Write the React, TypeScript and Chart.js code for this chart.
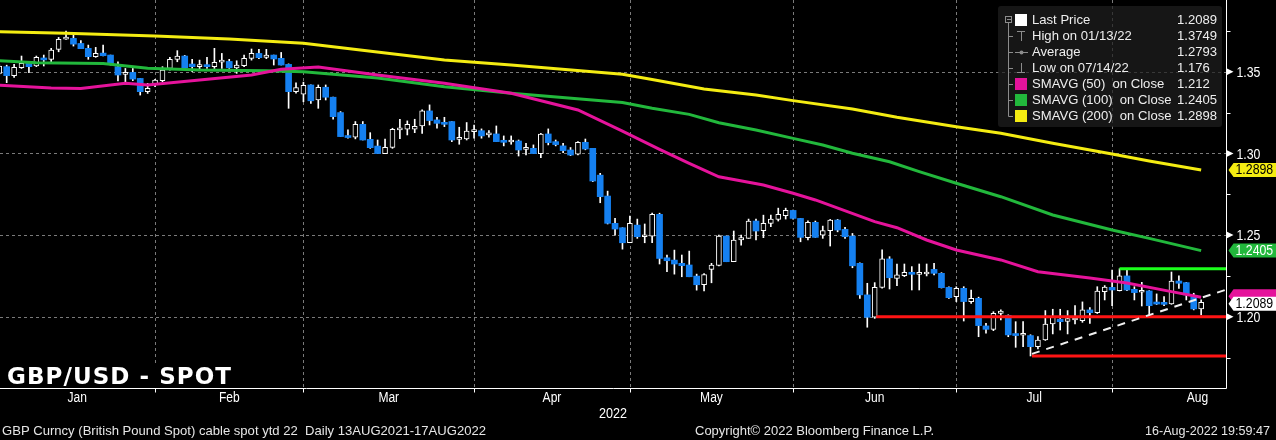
import React, { useEffect, useRef } from "react";
import { Chart, registerables } from "chart.js";
Chart.register(...registerables);

// ---- Daily candles (index 0 = 31 Dec 2021 ... 162 = 16 Aug 2022) ----
const opens = [
  1.3490, 1.3531, 1.3476, 1.3525, 1.3551, 1.3535, 1.3576, 1.3576, 1.3637, 1.3700,
  1.3704, 1.3673, 1.3643, 1.3592, 1.3614, 1.3602, 1.3531, 1.3484, 1.3496, 1.3459,
  1.3378, 1.3425, 1.3445, 1.3520, 1.3576, 1.3596, 1.3547, 1.3531, 1.3541, 1.3531,
  1.3559, 1.3563, 1.3524, 1.3537, 1.3582, 1.3612, 1.3588, 1.3602, 1.3582, 1.3545,
  1.3378, 1.3362, 1.3419, 1.3327, 1.3405, 1.3344, 1.3250, 1.3107, 1.3099, 1.3178,
  1.3086, 1.3045, 1.2999, 1.3037, 1.3144, 1.3148, 1.3148, 1.3168, 1.3260, 1.3205,
  1.3189, 1.3195, 1.3086, 1.3088, 1.3133, 1.3139, 1.3113, 1.3119, 1.3078, 1.3070,
  1.3076, 1.3025, 1.3031, 1.2999, 1.3119, 1.3072, 1.3046, 1.3021, 1.2995, 1.3068,
  1.3031, 1.2867, 1.2739, 1.2572, 1.2545, 1.2453, 1.2561, 1.2490, 1.2494, 1.2627,
  1.2361, 1.2347, 1.2327, 1.2317, 1.2249, 1.2196, 1.2290, 1.2314, 1.2494, 1.2337,
  1.2470, 1.2480, 1.2586, 1.2527, 1.2572, 1.2596, 1.2619, 1.2651, 1.2602, 1.2484,
  1.2578, 1.2500, 1.2527, 1.2592, 1.2535, 1.2494, 1.2327, 1.2134, 1.1997, 1.2180,
  1.2354, 1.2235, 1.2252, 1.2272, 1.2260, 1.2262, 1.2290, 1.2266, 1.2180, 1.2123,
  1.2174, 1.2093, 1.2113, 1.1944, 1.1923, 1.2021, 1.2009, 1.1893, 1.1887, 1.1885,
  1.1817, 1.1858, 1.1956, 1.1985, 1.1972, 1.1980, 1.1976, 1.2042, 1.2025, 1.2154,
  1.2180, 1.2160, 1.2250, 1.2168, 1.2150, 1.2158, 1.2087, 1.2087, 1.2078, 1.2219,
  1.2209, 1.2123, 1.2048,
];
const highs = [
  1.3545, 1.3540, 1.3545, 1.3596, 1.3555, 1.3596, 1.3602, 1.3643, 1.3710, 1.3749,
  1.3724, 1.3690, 1.3663, 1.3649, 1.3663, 1.3602, 1.3561, 1.3520, 1.3520, 1.3459,
  1.3429, 1.3453, 1.3531, 1.3588, 1.3629, 1.3600, 1.3576, 1.3571, 1.3588, 1.3643,
  1.3612, 1.3576, 1.3567, 1.3602, 1.3639, 1.3637, 1.3637, 1.3602, 1.3618, 1.3548,
  1.3432, 1.3436, 1.3419, 1.3419, 1.3419, 1.3344, 1.3256, 1.3144, 1.3195, 1.3195,
  1.3127, 1.3082, 1.3088, 1.3154, 1.3209, 1.3199, 1.3209, 1.3266, 1.3297, 1.3221,
  1.3221, 1.3195, 1.3160, 1.3189, 1.3174, 1.3150, 1.3139, 1.3168, 1.3107, 1.3107,
  1.3082, 1.3062, 1.3052, 1.3123, 1.3150, 1.3082, 1.3062, 1.3036, 1.3072, 1.3088,
  1.3031, 1.2878, 1.2769, 1.2602, 1.2545, 1.2616, 1.2598, 1.2568, 1.2635, 1.2634,
  1.2377, 1.2408, 1.2378, 1.2402, 1.2261, 1.2265, 1.2327, 1.2500, 1.2494, 1.2525,
  1.2500, 1.2598, 1.2598, 1.2622, 1.2622, 1.2665, 1.2665, 1.2653, 1.2602, 1.2588,
  1.2586, 1.2555, 1.2596, 1.2596, 1.2547, 1.2510, 1.2330, 1.2205, 1.2209, 1.2409,
  1.2368, 1.2323, 1.2323, 1.2307, 1.2323, 1.2323, 1.2327, 1.2270, 1.2184, 1.2184,
  1.2184, 1.2164, 1.2120, 1.1960, 1.2031, 1.2042, 1.2012, 1.1970, 1.1970, 1.1890,
  1.1878, 1.2038, 1.2046, 1.2046, 1.2038, 1.2068, 1.2091, 1.2056, 1.2184, 1.2191,
  1.2286, 1.2294, 1.2286, 1.2184, 1.2211, 1.2160, 1.2140, 1.2123, 1.2274, 1.2250,
  1.2211, 1.2144, 1.2103,
];
const lows = [
  1.3480, 1.3433, 1.3465, 1.3520, 1.3494, 1.3531, 1.3535, 1.3561, 1.3622, 1.3698,
  1.3657, 1.3641, 1.3576, 1.3588, 1.3596, 1.3541, 1.3443, 1.3439, 1.3445, 1.3357,
  1.3367, 1.3408, 1.3439, 1.3510, 1.3561, 1.3520, 1.3500, 1.3510, 1.3520, 1.3520,
  1.3520, 1.3520, 1.3490, 1.3531, 1.3571, 1.3580, 1.3580, 1.3541, 1.3541, 1.3276,
  1.3368, 1.3316, 1.3306, 1.3276, 1.3327, 1.3209, 1.3103, 1.3093, 1.3089, 1.3082,
  1.3031, 1.2999, 1.2999, 1.3031, 1.3090, 1.3113, 1.3127, 1.3123, 1.3174, 1.3154,
  1.3164, 1.3072, 1.3056, 1.3082, 1.3093, 1.3093, 1.3099, 1.3072, 1.3046, 1.3056,
  1.2984, 1.2990, 1.2999, 1.2974, 1.3052, 1.3046, 1.3005, 1.2986, 1.2990, 1.3022,
  1.2827, 1.2698, 1.2568, 1.2500, 1.2414, 1.2453, 1.2480, 1.2453, 1.2453, 1.2323,
  1.2276, 1.2261, 1.2245, 1.2245, 1.2163, 1.2159, 1.2208, 1.2312, 1.2337, 1.2337,
  1.2439, 1.2480, 1.2470, 1.2484, 1.2551, 1.2586, 1.2598, 1.2598, 1.2459, 1.2470,
  1.2486, 1.2480, 1.2433, 1.2520, 1.2480, 1.2300, 1.2113, 1.1936, 1.1990, 1.2175,
  1.2170, 1.2191, 1.2246, 1.2164, 1.2164, 1.2250, 1.2256, 1.2176, 1.2113, 1.2093,
  1.1974, 1.2082, 1.1878, 1.1900, 1.1915, 1.1980, 1.1878, 1.1813, 1.1817, 1.1760,
  1.1803, 1.1855, 1.1895, 1.1919, 1.1895, 1.1956, 1.1966, 1.1960, 1.2020, 1.2103,
  1.2068, 1.2158, 1.2160, 1.2103, 1.2066, 1.2005, 1.2075, 1.2068, 1.2076, 1.2174,
  1.2103, 1.2042, 1.2011,
];
const closes = [
  1.3535, 1.3476, 1.3527, 1.3551, 1.3531, 1.3588, 1.3572, 1.3633, 1.3698, 1.3702,
  1.3669, 1.3641, 1.3592, 1.3612, 1.3598, 1.3547, 1.3480, 1.3496, 1.3455, 1.3378,
  1.3398, 1.3449, 1.3510, 1.3576, 1.3596, 1.3524, 1.3531, 1.3541, 1.3531, 1.3557,
  1.3563, 1.3524, 1.3541, 1.3582, 1.3612, 1.3586, 1.3602, 1.3578, 1.3541, 1.3378,
  1.3403, 1.3416, 1.3322, 1.3404, 1.3344, 1.3225, 1.3103, 1.3097, 1.3178, 1.3082,
  1.3035, 1.2999, 1.3037, 1.3148, 1.3154, 1.3178, 1.3166, 1.3260, 1.3201, 1.3184,
  1.3178, 1.3082, 1.3095, 1.3137, 1.3139, 1.3107, 1.3123, 1.3072, 1.3068, 1.3078,
  1.3021, 1.3031, 1.2999, 1.3119, 1.3066, 1.3054, 1.3017, 1.2990, 1.3068, 1.3027,
  1.2831, 1.2735, 1.2572, 1.2537, 1.2453, 1.2572, 1.2490, 1.2500, 1.2627, 1.2357,
  1.2343, 1.2323, 1.2313, 1.2245, 1.2196, 1.2259, 1.2316, 1.2494, 1.2337, 1.2470,
  1.2484, 1.2586, 1.2525, 1.2572, 1.2598, 1.2627, 1.2651, 1.2602, 1.2486, 1.2578,
  1.2486, 1.2527, 1.2592, 1.2531, 1.2490, 1.2312, 1.2134, 1.1997, 1.2180, 1.2354,
  1.2239, 1.2256, 1.2272, 1.2260, 1.2266, 1.2266, 1.2266, 1.2178, 1.2117, 1.2174,
  1.2093, 1.2113, 1.1946, 1.1923, 1.2021, 1.2035, 1.1889, 1.1885, 1.1891, 1.1817,
  1.1858, 1.1956, 1.1997, 1.1970, 1.1989, 1.1990, 1.2042, 1.2025, 1.2158, 1.2182,
  1.2164, 1.2250, 1.2164, 1.2148, 1.2156, 1.2068, 1.2078, 1.2076, 1.2219, 1.2205,
  1.2134, 1.2048, 1.2089,
];

// ---- Moving averages (read at sample days) ----
const sma50Idx = [0, 7, 11, 17, 20, 27, 34, 38, 43, 51, 60, 69, 78, 84, 89, 93, 97, 103, 107, 110, 118, 121, 125, 129, 135, 140, 147, 152, 158, 162];
const sma50Val = [1.3418, 1.3400, 1.3398, 1.3429, 1.3418, 1.3449, 1.3480, 1.3515, 1.3529, 1.3480, 1.3429, 1.3368, 1.3266, 1.3137, 1.3025, 1.2939, 1.2857, 1.2807, 1.2756, 1.2715, 1.2582, 1.2545, 1.2470, 1.2409, 1.2348, 1.2276, 1.2237, 1.2207, 1.2154, 1.2120];
const sma100Idx = [0, 5, 14, 20, 27, 36, 41, 51, 60, 69, 84, 88, 93, 97, 102, 107, 111, 115, 120, 124, 129, 135, 142, 150, 155, 162];
const sma100Val = [1.3567, 1.3555, 1.3551, 1.3521, 1.3510, 1.3506, 1.3500, 1.3461, 1.3408, 1.3368, 1.3312, 1.3276, 1.3239, 1.3188, 1.3143, 1.3092, 1.3051, 1.3001, 1.2949, 1.2888, 1.2817, 1.2735, 1.2623, 1.2531, 1.2480, 1.2405];
const sma200Idx = [0, 9, 21, 31, 41, 43, 60, 69, 84, 88, 95, 102, 107, 115, 121, 129, 135, 142, 150, 155, 162];
const sma200Val = [1.3745, 1.3735, 1.3718, 1.3700, 1.3674, 1.3663, 1.3572, 1.3541, 1.3484, 1.3453, 1.3394, 1.3357, 1.3323, 1.3272, 1.3221, 1.3163, 1.3123, 1.3062, 1.2996, 1.2953, 1.2898];

// ---- Drawn levels ----
const supportHigh = 1.20;
const supportHighFrom = 118.2;
const supportLow = 1.176;
const supportLowFrom = 139.2;
const resistanceLevel = 1.2294;
const resistanceFrom = 151;
const trendFromIdx = 139.2;
const trendFromVal = 1.1773;
const trendToVal = 1.2166;

// ---- Axes ----
const X_MIN = 0.1;
const X_MAX = 165.35;
const Y_MIN = 1.1564;
const Y_MAX = 1.3939;
const monthEnds = [21, 41, 64, 85, 107, 129, 150];
const monthLabels = ["Jan", "Feb", "Mar", "Apr", "May", "Jun", "Jul", "Aug"];
const monthLabelPos = [10.5, 31, 52.5, 74.5, 96, 118, 139.5, 161.5];
const yMajorTicks = [1.2, 1.25, 1.3, 1.35];
const yMajorLabels = ["1.20", "1.25", "1.30", "1.35"];
const yMinorTicks = [1.175, 1.225, 1.275, 1.325, 1.375];
const yearLabel = "2022";

// ---- Legend ----
const legendLabels = ["Last Price", "High on 01/13/22", "Average", "Low on 07/14/22", "SMAVG (50)  on Close", "SMAVG (100)  on Close", "SMAVG (200)  on Close"];
const legendValues = ["1.2089", "1.3749", "1.2793", "1.176", "1.212", "1.2405", "1.2898"];

const titleText = "GBP/USD - SPOT";
const footerLeft = "GBP Curncy (British Pound Spot) cable spot ytd 22  Daily 13AUG2021-17AUG2022";
const footerMid = "Copyright\u00A9 2022 Bloomberg Finance L.P.";
const footerRight = "16-Aug-2022 19:59:47";

const C_BLUE = "#1580f0";
const C_MAGENTA = "#e5139b";
const C_GREEN = "#22b83c";
const C_YELLOW = "#f4ec12";
const C_RED = "#ff1414";
const C_LIME = "#1cff1c";
const FONT = "'Liberation Sans', Arial, sans-serif";

function drawText(ctx: any, s: string, x: number, y: number, font: string, color: string, align: string, sx = 1) {
  ctx.save();
  ctx.font = font;
  ctx.fillStyle = color;
  ctx.textAlign = align;
  ctx.textBaseline = "middle";
  ctx.translate(x, y);
  ctx.scale(sx, 1);
  ctx.fillText(s, 0, 0);
  ctx.restore();
}
function drawFit(ctx: any, s: string, x: number, y: number, font: string, color: string, align: string, width: number) {
  ctx.save();
  ctx.font = font;
  const w = ctx.measureText(s).width;
  ctx.restore();
  drawText(ctx, s, x, y, font, color, align, width / w);
}
function seg(ctx: any, x1: number, y1: number, x2: number, y2: number) {
  ctx.beginPath();
  ctx.moveTo(x1, y1);
  ctx.lineTo(x2, y2);
  ctx.stroke();
}
function tag(ctx: any, x: number, y: number, bg: string, fg: string, text: string) {
  ctx.save();
  ctx.fillStyle = bg;
  ctx.beginPath();
  ctx.moveTo(x + 2, y);
  ctx.lineTo(x + 7, y - 7);
  ctx.lineTo(1276, y - 7);
  ctx.lineTo(1276, y + 7);
  ctx.lineTo(x + 7, y + 7);
  ctx.closePath();
  ctx.fill();
  ctx.restore();
  if (text) drawText(ctx, text, x + 9, y + 0.5, "14px " + FONT, fg, "left", 0.88);
}

const bbgPlugin = {
  id: "bbg",
  beforeDraw(chart: any) {
    const ctx = chart.ctx;
    ctx.save();
    ctx.fillStyle = "#000";
    ctx.fillRect(0, 0, chart.width, chart.height);
    ctx.restore();
  },
  beforeDatasetsDraw(chart: any) {
    const { ctx, chartArea: a, scales } = chart;
    const x = scales.x, y = scales.y;
    ctx.save();
    ctx.strokeStyle = "#7a7a7a";
    ctx.lineWidth = 1;
    ctx.setLineDash([3, 3]);
    for (const v of yMajorTicks) {
      const py = Math.round(y.getPixelForValue(v)) + 0.5;
      seg(ctx, a.left, py, a.right, py);
    }
    for (const k of monthEnds) {
      const px = Math.round(x.getPixelForValue(k)) + 0.5;
      seg(ctx, px, a.top, px, a.bottom);
    }
    ctx.restore();
  },
  afterDatasetsDraw(chart: any) {
    const { ctx, chartArea: a, scales } = chart;
    const x = scales.x, y = scales.y;
    const axisX = Math.round(a.right) + 0.5;
    const axisY = Math.round(a.bottom) + 0.5;

    // axes
    ctx.save();
    ctx.strokeStyle = "#ffffff";
    ctx.lineWidth = 1;
    seg(ctx, a.left, axisY, axisX, axisY);
    seg(ctx, axisX, a.top, axisX, axisY);
    for (const k of monthEnds) {
      const px = Math.round(x.getPixelForValue(k)) + 0.5;
      seg(ctx, px, axisY, px, axisY + 4);
    }
    for (const v of yMinorTicks) {
      const py = Math.round(y.getPixelForValue(v)) + 0.5;
      if (py > a.top && py < a.bottom) seg(ctx, axisX, py, axisX + 4, py);
    }
    ctx.fillStyle = "#ffffff";
    yMajorTicks.forEach((v, i) => {
      const py = y.getPixelForValue(v);
      ctx.beginPath();
      ctx.moveTo(axisX, py - 3.5);
      ctx.lineTo(axisX + 7, py);
      ctx.lineTo(axisX, py + 3.5);
      ctx.closePath();
      ctx.fill();
      drawText(ctx, yMajorLabels[i], axisX + 10, py + 1, "15px " + FONT, "#ffffff", "left", 0.82);
    });
    ctx.restore();

    // month labels
    monthLabels.forEach((m, i) => {
      drawText(ctx, m, x.getPixelForValue(monthLabelPos[i]), a.bottom + 10, "14px " + FONT, "#ffffff", "center", 0.86);
    });
    drawText(ctx, yearLabel, (a.left + a.right) / 2, a.bottom + 26, "14px " + FONT, "#ffffff", "center", 0.9);

    // value tags on the right axis
    const n = closes.length;
    tag(ctx, axisX, y.getPixelForValue(sma200Val[sma200Val.length - 1]), C_YELLOW, "#000000", sma200Val[sma200Val.length - 1].toFixed(4));
    tag(ctx, axisX, y.getPixelForValue(sma100Val[sma100Val.length - 1]), C_GREEN, "#ffffff", sma100Val[sma100Val.length - 1].toFixed(4));
    tag(ctx, axisX, y.getPixelForValue(sma50Val[sma50Val.length - 1]) - 1, C_MAGENTA, "#ffffff", "");
    tag(ctx, axisX, y.getPixelForValue(closes[n - 1]) + 1.5, "#ffffff", "#000000", closes[n - 1].toFixed(4));

    // legend box
    ctx.save();
    ctx.fillStyle = "rgba(30,30,30,0.72)";
    ctx.beginPath();
    if (ctx.roundRect) ctx.roundRect(998, 6, 224, 121, 3);
    else ctx.rect(998, 6, 224, 121);
    ctx.fill();
    ctx.strokeStyle = "#8c8c8c";
    ctx.lineWidth = 1;
    ctx.strokeRect(1005.5, 16.5, 6, 6);
    seg(ctx, 1007, 19.5, 1011, 19.5);
    seg(ctx, 1008.5, 23, 1008.5, 116.5);
    const swatch = ["#ffffff", null, null, null, C_MAGENTA, C_GREEN, C_YELLOW];
    legendLabels.forEach((lab, i) => {
      const cy = 20 + 16 * i;
      if (i > 0) seg(ctx, 1008.5, cy + 0.5, 1013, cy + 0.5);
      const sw = swatch[i];
      if (sw) {
        ctx.fillStyle = sw;
        ctx.fillRect(1015, cy - 6, 12, 12);
      } else if (i === 1) {
        seg(ctx, 1017, cy - 4.5, 1025, cy - 4.5);
        seg(ctx, 1021.5, cy - 4.5, 1021.5, cy + 5);
      } else if (i === 2) {
        seg(ctx, 1015, cy + 0.5, 1028, cy + 0.5);
        ctx.fillStyle = "#8c8c8c";
        ctx.beginPath();
        ctx.arc(1021.5, cy + 0.5, 2, 0, Math.PI * 2);
        ctx.fill();
      } else if (i === 3) {
        seg(ctx, 1021.5, cy - 5, 1021.5, cy + 4.5);
        seg(ctx, 1017, cy + 4.5, 1025, cy + 4.5);
      }
      drawText(ctx, lab, 1032, cy + 0.5, "13.5px " + FONT, "#eeeeee", "left", 0.97);
      drawText(ctx, legendValues[i], 1177, cy + 0.5, "13.5px " + FONT, "#eeeeee", "left", 0.97);
    });
    ctx.restore();

    // title
    ctx.save();
    ctx.fillStyle = "#000";
    ctx.fillRect(0, 364, 238, a.bottom - 364);
    ctx.font = "bold 23px 'DejaVu Sans', sans-serif";
    const tw = ctx.measureText(titleText).width;
    const spacing = (224 - tw) / (titleText.length - 1);
    ctx.letterSpacing = spacing.toFixed(2) + "px";
    ctx.fillStyle = "#ffffff";
    ctx.textBaseline = "alphabetic";
    ctx.textAlign = "left";
    ctx.fillText(titleText, 7, 384);
    ctx.restore();

    // footer
    drawFit(ctx, footerLeft, 2, 431, "13px " + FONT, "#e6e6e6", "left", 484);
    drawFit(ctx, footerMid, 814.5, 431, "13px " + FONT, "#e6e6e6", "center", 239);
    drawFit(ctx, footerRight, 1270, 431, "13px " + FONT, "#e6e6e6", "right", 125);
  },
};

export default function App() {
  const ref = useRef<HTMLCanvasElement | null>(null);
  useEffect(() => {
    const canvas = ref.current;
    if (!canvas) return;
    const upBodies: any[] = [];
    const downBodies: any[] = [];
    const wicks: any[] = [];
    closes.forEach((c, k) => {
      wicks.push({ x: k, y: [lows[k], highs[k]] });
      if (c >= opens[k]) upBodies.push({ x: k, y: [opens[k], c] });
      else downBodies.push({ x: k, y: [c, opens[k]] });
    });
    const pts = (idx: number[], val: number[]) => idx.map((k, i) => ({ x: k, y: val[i] }));
    const lineDs = (label: string, data: any[], color: string, width: number, order: number, dash: number[] = []) => ({
      type: "line",
      label,
      data,
      borderColor: color,
      backgroundColor: color,
      borderWidth: width,
      borderDash: dash,
      pointRadius: 0,
      tension: 0,
      fill: false,
      order,
    });
    const chart = new Chart(canvas, {
      type: "bar",
      data: {
        datasets: [
          lineDs("Trend", [{ x: trendFromIdx, y: trendFromVal }, { x: X_MAX, y: trendToVal }], "#f0f0f0", 2, 0, [8, 7]),
          lineDs("Support 1.20", [{ x: supportHighFrom, y: supportHigh }, { x: X_MAX, y: supportHigh }], C_RED, 3, 1),
          lineDs("Support 1.176", [{ x: supportLowFrom, y: supportLow }, { x: X_MAX, y: supportLow }], C_RED, 3, 1),
          lineDs("Resistance", [{ x: resistanceFrom, y: resistanceLevel }, { x: X_MAX, y: resistanceLevel }], C_LIME, 3, 1),
          lineDs("SMAVG (50)", pts(sma50Idx, sma50Val), C_MAGENTA, 3, 2),
          lineDs("SMAVG (100)", pts(sma100Idx, sma100Val), C_GREEN, 3, 3),
          lineDs("SMAVG (200)", pts(sma200Idx, sma200Val), C_YELLOW, 3, 4),
          {
            type: "bar",
            label: "Up",
            data: upBodies,
            backgroundColor: "#000000",
            borderColor: "#ffffff",
            borderWidth: 1,
            borderSkipped: false,
            barThickness: 5,
            minBarLength: 2,
            grouped: false,
            order: 10,
          },
          {
            type: "bar",
            label: "Down",
            data: downBodies,
            backgroundColor: C_BLUE,
            borderWidth: 0,
            borderSkipped: false,
            barThickness: 6,
            minBarLength: 2,
            grouped: false,
            order: 10,
          },
          {
            type: "bar",
            label: "Range",
            data: wicks,
            backgroundColor: "#ffffff",
            borderWidth: 0,
            barThickness: 1,
            grouped: false,
            order: 20,
          },
        ] as any,
      },
      options: {
        responsive: false,
        animation: false,
        devicePixelRatio: 1,
        events: [],
        layout: { padding: { left: 0, top: 0, right: 50, bottom: 52 } },
        plugins: { legend: { display: false }, tooltip: { enabled: false } },
        scales: {
          x: { type: "linear", display: false, min: X_MIN, max: X_MAX, offset: false },
          y: { type: "linear", display: false, min: Y_MIN, max: Y_MAX, beginAtZero: false },
        },
      } as any,
      plugins: [bbgPlugin as any],
    });
    return () => chart.destroy();
  }, []);
  return (
    <div style={{ position: "fixed", left: 0, top: 0, width: 1276, height: 440, background: "#000" }}>
      <canvas ref={ref} width={1276} height={440} style={{ display: "block", width: 1276, height: 440 }} />
    </div>
  );
}
